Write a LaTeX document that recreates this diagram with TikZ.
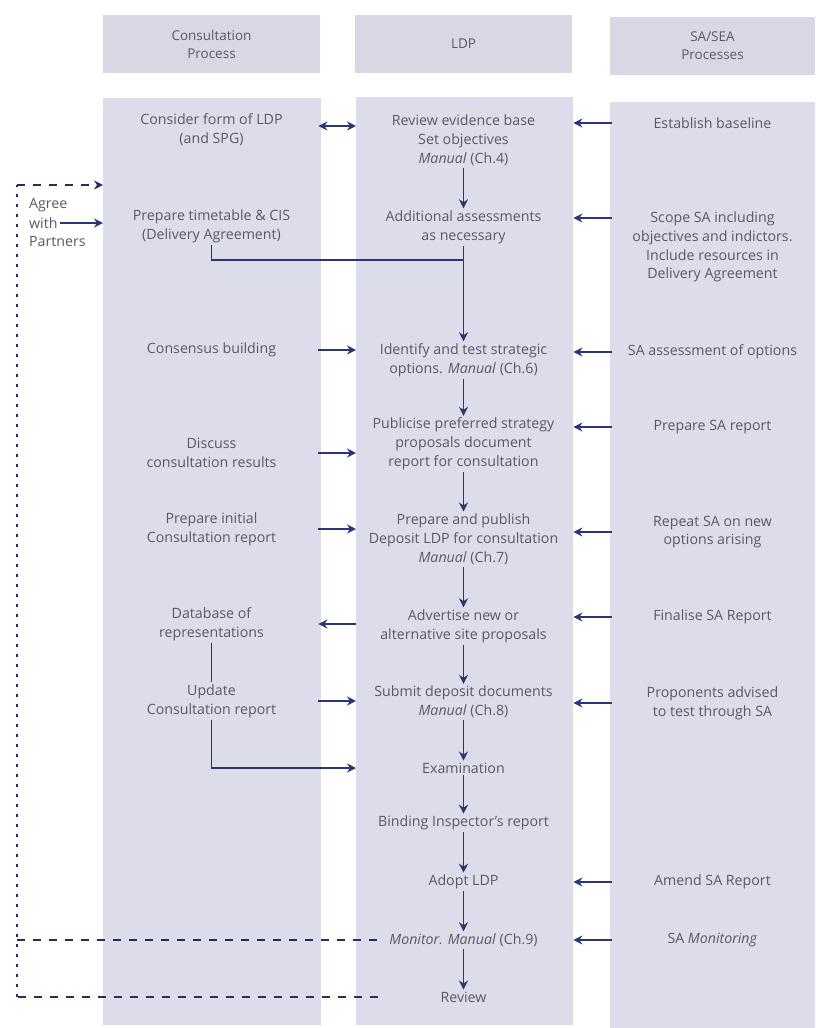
\documentclass[tikz,border=0pt]{standalone}
\usepackage{fontspec}
\setmainfont{Open Sans}
\usetikzlibrary{arrows.meta,calc}
\definecolor{colfill}{HTML}{DCDCEB}
\definecolor{hdrfill}{HTML}{D8D8E5}
\definecolor{txt}{HTML}{5A5A62}
\definecolor{navy}{HTML}{2C3676}
\begin{document}
\begin{tikzpicture}[x=1pt,y=-1pt,
  lbl/.style={font=\fontsize{14.2}{18.8}\selectfont, text=txt, align=center, inner sep=2pt},
  hdrbox/.style={fill=hdrfill, minimum height=58pt, font=\fontsize{13.5}{18}\selectfont, text=txt, align=center, inner sep=0pt},
  colbox/.style={fill=colfill, anchor=north west, inner sep=0pt},
  arr/.style={draw=navy, line width=1.8pt, -{Stealth[length=9pt,width=9pt]}},
  darr/.style={draw=navy, line width=1.8pt, {Stealth[length=9pt,width=9pt]}-{Stealth[length=9pt,width=9pt]}},
  ln/.style={draw=navy, line width=1.8pt},
  dshh/.style={draw=navy!85!black, line width=2pt, dash pattern=on 8pt off 8pt},
  dshv/.style={draw=navy!85!black, line width=2pt, dash pattern=on 3.5pt off 6.5pt},
  ]
\useasboundingbox (0,0) rectangle (815,1028);
\fill[white] (0,0) rectangle (815,1028);
% headers
\node[hdrbox, minimum width=217pt] (hL) at (211.5,44) {Consultation\\Process};
\node[hdrbox, minimum width=217pt] (hM) at (463.5,44) {LDP};
\node[hdrbox, minimum width=205pt] (hR) at (712.5,46) {SA/SEA\\Processes};
% columns
\node[colbox, minimum width=218pt, minimum height=927pt] (colL) at (103,98) {};
\node[colbox, minimum width=217pt, minimum height=928pt] (colM) at (356,97) {};
\node[colbox, minimum width=205pt, minimum height=926pt] (colR) at (610,102) {};
% left column
\node[lbl] (lc1) at (211.5,130) {Consider form of LDP\\(and SPG)};
\node[lbl] (lc2) at (211.5,226) {Prepare timetable \& CIS\\(Delivery Agreement)};
\node[lbl] (lc3) at (211.5,350) {Consensus building};
\node[lbl] (lc4) at (211.5,453) {Discuss\\consultation results};
\node[lbl] (lc5) at (211.5,529) {Prepare initial\\Consultation report};
\node[lbl] (lc6) at (211.5,624) {Database of\\representations};
\node[lbl] (lc7) at (211.5,701) {Update\\Consultation report};
\node[lbl, anchor=west] (ag1) at (27,205) {Agree};
\node[lbl, anchor=west] (ag2) at (27,223) {with};
\node[lbl, anchor=west] (ag3) at (27,241) {Partners};
% middle column
\node[lbl] (m1) at (463.5,140) {Review evidence base\\Set objectives\\\textit{Manual} (Ch.4)};
\node[lbl] (m2) at (463.5,227) {Additional assessments\\as necessary};
\node[lbl] (m3) at (463.5,360) {Identify and test strategic\\options. \textit{Manual} (Ch.6)};
\node[lbl] (m4) at (463.5,444) {Publicise preferred strategy\\proposals document\\report for consultation};
\node[lbl] (m5) at (463.5,539) {Prepare and publish\\Deposit LDP for consultation\\\textit{Manual} (Ch.7)};
\node[lbl] (m6) at (463.5,626) {Advertise new or\\alternative site proposals};
\node[lbl] (m7) at (463.5,702) {Submit deposit documents\\\textit{Manual} (Ch.8)};
\node[lbl] (m8) at (463.5,768) {Examination};
\node[lbl] (m9) at (463.5,823) {Binding Inspector's report};
\node[lbl] (m10) at (463.5,882) {Adopt LDP};
\node[lbl] (m11) at (463.5,940) {\textit{Monitor. Manual} (Ch.9)};
\node[lbl] (m12) at (463.5,997) {Review};
% right column
\node[lbl] (r1) at (712.5,123) {Establish baseline};
\node[lbl] (r2) at (712.5,247) {Scope SA including\\objectives and indictors.\\Include resources in\\Delivery Agreement};
\node[lbl] (r3) at (712.5,352) {SA assessment of options};
\node[lbl] (r4) at (712.5,427) {Prepare SA report};
\node[lbl] (r5) at (712.5,532) {Repeat SA on new\\options arising};
\node[lbl] (r6) at (712.5,617) {Finalise SA Report};
\node[lbl] (r7) at (712.5,703) {Proponents advised\\to test through SA};
\node[lbl] (r8) at (712.5,882) {Amend SA Report};
\node[lbl] (r9) at (712.5,940) {SA \textit{Monitoring}};
% vertical arrows in LDP column
\foreach \a/\b in {m1/m2,m2/m3,m3/m4,m4/m5,m5/m6,m6/m7,m7/m8,m8/m9,m9/m10,m10/m11,m11/m12}
  \draw[arr] (\a) -- (\b);
% right to middle
\foreach \r in {r1,r3,r4,r5,r6,r7,r8,r9}
  \draw[arr] ([xshift=2pt]colR.west |- \r) -- (colM.east |- \r);
\draw[arr] ($([xshift=2pt]colR.west |- r2)+(0,-29)$) -- ($(colM.east |- r2)+(0,-29)$);
% left to middle
\draw[darr] ($([xshift=-3pt]colL.east |- lc1)+(0,-4)$) -- ($(colM.west |- lc1)+(0,-4)$);
\foreach \l in {lc3,lc4,lc5,lc7}
  \draw[arr] ([xshift=-3pt]colL.east |- \l) -- (colM.west |- \l);
\draw[arr] (colM.west |- lc6) -- ([xshift=-3pt]colL.east |- lc6);
\draw[arr] (ag2.east) -- (colL.west |- ag2);
% elbow connectors
\coordinate (j1) at (463.5,260);
\draw[ln] (lc2.south) |- (j1);
\draw[ln] (lc6.south) -- (lc7.north);
\draw[arr] (lc7.south) |- (colM.west |- m8);
% dashed feedback loop
\coordinate (revL) at (378,997);
\coordinate (monL) at (377,940);
\coordinate (cB) at (17,997);
\coordinate (cT) at (17,185);
\draw[dshh] (revL) -- (cB);
\draw[dshh] (monL) -- (cB |- monL);
\draw[dshv] (cB) -- (cT);
\draw[dshh, -{Stealth[length=9pt,width=9pt]}] (cT) -- (colL.west |- cT);
\end{tikzpicture}
\end{document}
